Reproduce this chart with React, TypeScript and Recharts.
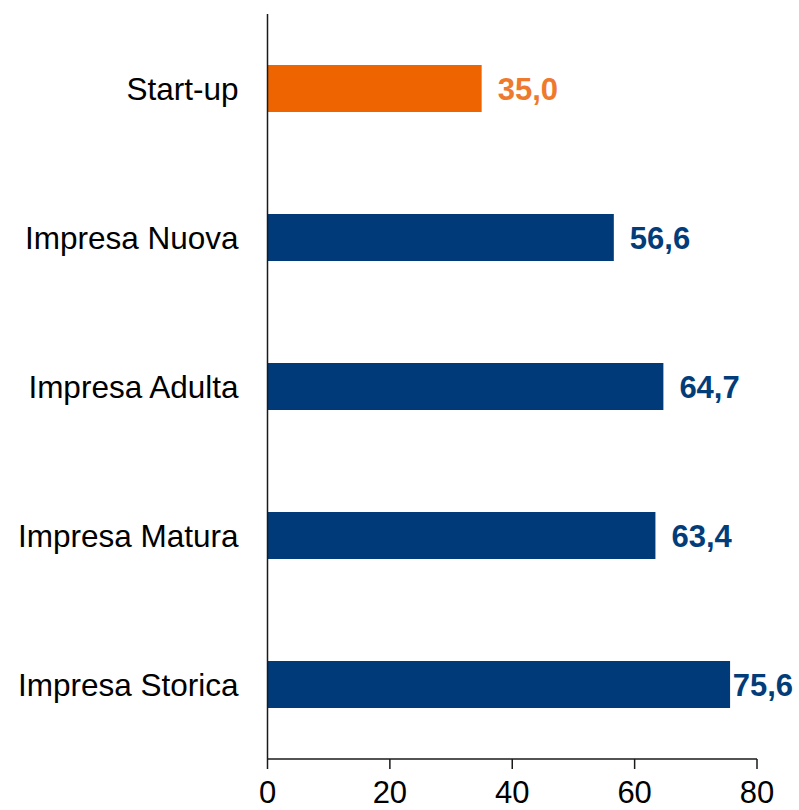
import { Bar, BarChart, Cell, LabelList, XAxis, YAxis } from "recharts";

const CATEGORIES = [
  "Start-up",
  "Impresa Nuova",
  "Impresa Adulta",
  "Impresa Matura",
  "Impresa Storica",
];
const VALUES = [35.0, 56.6, 64.7, 63.4, 75.6];
const X_TICKS = [0, 20, 40, 60, 80];

const BAR_COLORS = ["#ED6400", "#003A78", "#003A78", "#003A78", "#003A78"];
const LABEL_COLORS = ["#EE7A2E", "#023D7A", "#023D7A", "#023D7A", "#023D7A"];

const FONT = "'Liberation Sans', Arial, sans-serif";
const W = 799;
const H = 810;
// keep the last label inside the picture
const LABEL_MAX_END = 793;

const data = CATEGORIES.map((name, i) => ({ name, value: VALUES[i] }));

const fmt = (v: number) => v.toFixed(1).replace(".", ",");

function ValueLabel(props: any) {
  const { x, y, width, height, value, index } = props;
  const approxW = fmt(value).length * 0.5 * 31;
  let lx = x + width + 16;
  let anchor: "start" | "end" = "start";
  if (lx + approxW > LABEL_MAX_END) {
    lx = LABEL_MAX_END;
    anchor = "end";
  }
  return (
    <text
      x={lx}
      y={y + height / 2}
      dy="0.36em"
      textAnchor={anchor}
      fontFamily={FONT}
      fontSize={31}
      fontWeight="bold"
      fill={LABEL_COLORS[index]}
    >
      {fmt(value)}
    </text>
  );
}

export default function App() {
  return (
    <div style={{ position: "fixed", left: 0, top: 0, background: "#fff" }}>
      <BarChart
        width={W}
        height={H}
        data={data}
        layout="vertical"
        margin={{ top: 14, right: 42, left: 0, bottom: 0 }}
        barCategoryGap={0}
      >
        <XAxis
          type="number"
          domain={[0, 80]}
          ticks={X_TICKS}
          interval={0}
          height={51}
          tickSize={10}
          tickMargin={12}
          axisLine={{ stroke: "#1a1a1a", strokeWidth: 1.5 }}
          tickLine={{ stroke: "#1a1a1a", strokeWidth: 1.5 }}
          tick={{ fill: "#000", fontSize: 31, fontFamily: FONT }}
        />
        <YAxis
          type="category"
          dataKey="name"
          width={267.5}
          tickSize={0}
          tickMargin={29}
          tickLine={false}
          axisLine={{ stroke: "#1a1a1a", strokeWidth: 1.5 }}
          tick={{ fill: "#000", fontSize: 31.5, fontFamily: FONT }}
        />
        <Bar dataKey="value" barSize={47} isAnimationActive={false}>
          {data.map((d, i) => (
            <Cell key={d.name} fill={BAR_COLORS[i]} />
          ))}
          <LabelList dataKey="value" content={<ValueLabel />} />
        </Bar>
      </BarChart>
    </div>
  );
}
